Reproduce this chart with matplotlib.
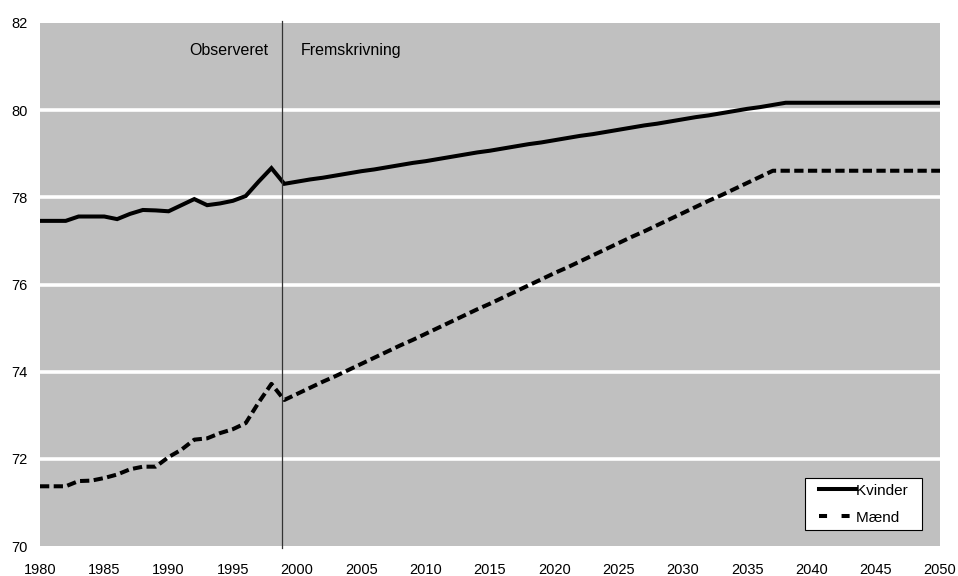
import numpy as np
import matplotlib
matplotlib.use('Agg')
import matplotlib.pyplot as plt
from matplotlib.lines import Line2D
from matplotlib.legend_handler import HandlerLine2D

plt.rcParams['font.family'] = ['Liberation Sans', 'DejaVu Sans']

# Data: life expectancy at birth, observed 1980-1998 and projected 1999-2050
years = list(range(1980, 2051))

kvinder = [77.46, 77.46, 77.46, 77.56, 77.56, 77.56, 77.50, 77.62, 77.71, 77.70,
           77.68, 77.82, 77.96, 77.82, 77.86, 77.92, 78.03, 78.36, 78.67,
           78.31, 78.36, 78.41, 78.45, 78.50, 78.55, 78.60, 78.64, 78.69, 78.74,
           78.79, 78.83, 78.88, 78.93, 78.98, 79.03, 79.07, 79.12, 79.17, 79.22,
           79.26, 79.31, 79.36, 79.41, 79.45, 79.50, 79.55, 79.60, 79.65, 79.69,
           79.74, 79.79, 79.84, 79.88, 79.93, 79.98, 80.03, 80.07, 80.12, 80.17,
           80.17, 80.17, 80.17, 80.17, 80.17, 80.17, 80.17, 80.17, 80.17, 80.17,
           80.17, 80.17]

maend = [71.37, 71.37, 71.37, 71.49, 71.50, 71.56, 71.64, 71.76, 71.82, 71.82,
         72.04, 72.21, 72.44, 72.47, 72.59, 72.68, 72.82, 73.29, 73.72,
         73.35, 73.49, 73.63, 73.77, 73.90, 74.04, 74.18, 74.32, 74.46, 74.60,
         74.73, 74.87, 75.01, 75.15, 75.29, 75.43, 75.56, 75.70, 75.84, 75.98,
         76.12, 76.26, 76.39, 76.53, 76.67, 76.81, 76.95, 77.09, 77.22, 77.36,
         77.50, 77.64, 77.78, 77.92, 78.05, 78.19, 78.33, 78.47, 78.61,
         78.61, 78.61, 78.61, 78.61, 78.61, 78.61, 78.61, 78.61, 78.61, 78.61,
         78.61, 78.61, 78.61]

xticks = list(range(1980, 2051, 5))
yticks = [70, 72, 74, 76, 78, 80, 82]
split_year = 1998.85

fig = plt.figure(figsize=(9.58, 5.76), dpi=100)
ax = fig.add_axes([40/958, 30/576, 900/958, 523/576])
ax.set_facecolor('#c0c0c0')

for y in yticks[1:-1]:
    ax.axhline(y, color='white', linewidth=2.6, zorder=1)

ax.plot(years, kvinder, color='black', linewidth=2.9, solid_joinstyle='miter', zorder=3)
ax.plot(years, maend, color='black', linewidth=2.9, dashes=(2.3, 1.1),
        dash_capstyle='butt', zorder=3)

ax.axvline(split_year, ymin=-0.004, ymax=1.003, color='#333333', linewidth=0.9,
           clip_on=False, zorder=4)
ax.text(1997.75, 81.27, 'Observeret', ha='right', va='baseline', fontsize=11.5)
ax.text(2000.25, 81.27, 'Fremskrivning', ha='left', va='baseline', fontsize=11.5)

ax.set_xlim(1980, 2050)
ax.set_ylim(70, 82)
ax.set_xticks(xticks)
ax.set_yticks(yticks)
ax.tick_params(length=0, labelsize=10.5)
ax.tick_params(axis='x', pad=12)
ax.tick_params(axis='y', pad=9)
for sp in ax.spines.values():
    sp.set_visible(False)

handles = [Line2D([], [], color='black', linewidth=2.9),
           Line2D([], [], color='black', linewidth=2.9, dashes=(2.0, 3.6),
                  dash_capstyle='butt')]
leg = ax.legend(handles, ['Kvinder  ', 'Mænd  '], loc='lower right',
                bbox_to_anchor=(0.9797, 0.0306), borderaxespad=0,
                fontsize=11, frameon=True, fancybox=False, framealpha=1,
                edgecolor='black', borderpad=0.35, labelspacing=0.85,
                handlelength=2.97, handletextpad=0.0,
                handler_map={Line2D: HandlerLine2D(xpad=0.55)})
leg.get_frame().set_linewidth(0.8)

fig.savefig('out.png', dpi=100)
